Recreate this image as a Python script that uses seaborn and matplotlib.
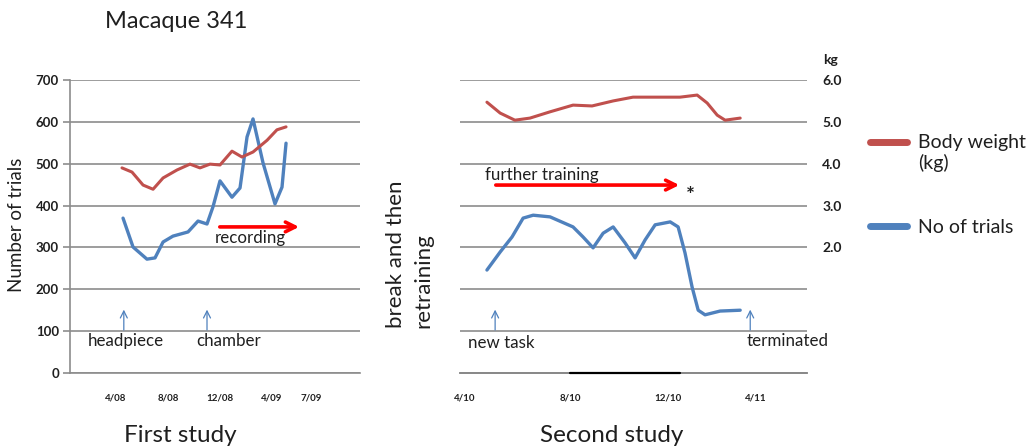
import matplotlib
matplotlib.use("Agg")
import matplotlib.pyplot as plt
from matplotlib.transforms import Affine2D
import seaborn as sns
import pandas as pd

# ---------------- data ----------------
# First study: x = months since 4/08
first_trials_month = [0.54, 1.31, 2.38, 3.0, 3.62, 4.38, 5.54, 6.31, 7.0, 7.46, 8.0,
                      8.92, 9.54, 10.08, 10.54, 11.31, 12.23, 12.77, 13.08]
first_trials = [370, 301, 272, 275, 313, 327, 337, 363, 356, 397, 459,
                420, 442, 564, 607, 502, 404, 444, 549]
first_weight_month = [0.46, 1.23, 2.08, 2.85, 3.62, 4.69, 5.69, 6.46, 7.23, 8.0,
                      8.92, 9.69, 10.54, 11.62, 12.38, 13.08]
first_weight_kg = [3.90, 3.80, 3.49, 3.39, 3.66, 3.85, 3.99, 3.90, 3.99, 3.97,
                   4.30, 4.16, 4.28, 4.56, 4.81, 4.88]

# Second study: x = time index from 4/10
second_trials_month = [0.83, 1.33, 1.78, 2.2, 2.58, 3.22, 4.09, 4.47, 4.85, 5.23, 5.61,
                       6.06, 6.44, 6.82, 7.2, 7.77, 8.07, 8.33, 8.6, 8.83, 9.09, 9.66, 10.42]
second_trials = [246, 289, 325, 370, 377, 373, 349, 325, 299, 334, 349,
                 311, 275, 318, 354, 361, 349, 287, 205, 150, 139, 148, 150]
second_weight_month = [0.83, 1.33, 1.89, 2.46, 3.22, 4.09, 4.81, 5.61, 6.36, 7.27,
                       8.14, 8.79, 9.17, 9.55, 9.85, 10.42]
second_weight_kg = [5.47, 5.21, 5.04, 5.09, 5.24, 5.40, 5.38, 5.50, 5.59, 5.59,
                    5.59, 5.64, 5.45, 5.16, 5.04, 5.09]

first_tick_pos = [0, 4, 8, 12, 15]
first_tick_labels = ["4/08", "8/08", "12/08", "4/09", "7/09"]
second_tick_pos = [0, 4, 7.7, 11]
second_tick_labels = ["4/10", "8/10", "12/10", "4/11"]
trial_ticks = [0, 100, 200, 300, 400, 500, 600, 700]
kg_ticks = [2.0, 3.0, 4.0, 5.0, 6.0]
kg_tick_labels = ["2.0", "3.0", "4.0", "5.0", "6.0"]

RED = "#C0504D"
BLUE = "#4F81BD"
GRID = "#8c8c8c"
INK = "#1f1f1f"

sns.set_style("white")
plt.rcParams["font.family"] = ["Lato", "DejaVu Sans"]

W, H = 1029, 448
fig = plt.figure(figsize=(W / 100, H / 100), dpi=100)

def fx(px):
    return px / W

def fy(py):
    return 1 - py / H

axL = fig.add_axes([fx(70), fy(373), fx(290), 293 / H])
axR = fig.add_axes([fx(460), fy(373), fx(347), 293 / H])

for ax in (axL, axR):
    ax.set_ylim(0, 700)
    ax.set_yticks(trial_ticks)
    ax.grid(axis="y", color=GRID, lw=1.2)
    ax.grid(axis="x", visible=False)
    for s in ("top", "right"):
        ax.spines[s].set_visible(False)
    ax.spines["bottom"].set_color(GRID)
    ax.spines["bottom"].set_linewidth(1.2)
    ax.set_axisbelow(True)

axL.set_xlim(-3.54, 18.77)
axR.set_xlim(-0.19, 12.95)

# left axis styling
axL.spines["left"].set_color(GRID)
axL.spines["left"].set_linewidth(1.2)
axL.tick_params(axis="y", length=5, color=GRID, width=1.2, labelsize=9.5, pad=3,
                labelcolor=INK)
for t in axL.get_yticklabels():
    t.set_fontweight("bold")
axL.set_xticks(first_tick_pos)
axL.set_xticklabels(first_tick_labels, fontsize=7, fontweight="bold", color=INK)
axL.tick_params(axis="x", length=0, pad=15)

axR.spines["left"].set_visible(False)
axR.set_yticklabels([])
axR.tick_params(axis="y", length=0)
axR.set_xticks(second_tick_pos)
axR.set_xticklabels(second_tick_labels, fontsize=7, fontweight="bold", color=INK)
axR.tick_params(axis="x", length=0, pad=15)
axR.axhline(0, color="#7f7f7f", lw=1.4, clip_on=False, zorder=2.5)
axR.axhline(0, xmin=0.317, xmax=0.634, color="black", lw=1.6, clip_on=False, zorder=3)

# twin axes for weight (kg), 6.0 kg aligned with 700 trials
twL = axL.twinx()
twR = axR.twinx()
for tw in (twL, twR):
    tw.set_ylim(-1, 6)
    for s in tw.spines.values():
        s.set_visible(False)
    tw.grid(False)
twL.set_yticks([])
twR.set_yticks(kg_ticks)
twR.set_yticklabels(kg_tick_labels, fontsize=10, fontweight="bold", color=INK)
twR.tick_params(axis="y", length=0, pad=11)

df1t = pd.DataFrame({"month": first_trials_month, "trials": first_trials})
df1w = pd.DataFrame({"month": first_weight_month, "kg": first_weight_kg})
df2t = pd.DataFrame({"month": second_trials_month, "trials": second_trials})
df2w = pd.DataFrame({"month": second_weight_month, "kg": second_weight_kg})

sns.lineplot(data=df1w, x="month", y="kg", ax=twL, color=RED, lw=2.2, sort=False)
sns.lineplot(data=df1t, x="month", y="trials", ax=axL, color=BLUE, lw=2.4, sort=False)
sns.lineplot(data=df2w, x="month", y="kg", ax=twR, color=RED, lw=2.2, sort=False)
sns.lineplot(data=df2t, x="month", y="trials", ax=axR, color=BLUE, lw=2.4, sort=False)

for ax in (axL, axR, twL, twR):
    ax.set_xlabel("")
    ax.set_ylabel("")

# ---------------- annotations ----------------
txt = dict(fontsize=12.2, color=INK)
# recording arrow
axL.annotate("", xy=(14.3, 349), xytext=(7.77, 349),
             arrowprops=dict(arrowstyle="->,head_width=0.35,head_length=0.7", color="red", lw=2.6))
axL.text(7.6, 322, "recording", ha="left", va="center", **txt)
# up arrows
for xm in (0.6, 7.0):
    axL.annotate("", xy=(xm, 158), xytext=(xm, 96),
                 arrowprops=dict(arrowstyle="->,head_width=0.25,head_length=0.5", color=BLUE, lw=0.9))
axL.text(0.75, 76, "headpiece", ha="center", va="center", **txt)
axL.text(8.7, 76, "chamber", ha="center", va="center", **txt)

for xm in (1.14, 10.8):
    axR.annotate("", xy=(xm, 158), xytext=(xm, 96),
                 arrowprops=dict(arrowstyle="->,head_width=0.25,head_length=0.5", color=BLUE, lw=0.9))
axR.text(0.11, 72, "new task", ha="left", va="center", **txt)
axR.text(10.68, 76, "terminated", ha="left", va="center", clip_on=False, **txt)
axR.text(0.76, 473, "further training", ha="left", va="center", **txt)
axR.annotate("", xy=(8.22, 449), xytext=(1.06, 449),
             arrowprops=dict(arrowstyle="->,head_width=0.35,head_length=0.7", color="red", lw=2.6))
axR.text(8.52, 422, "*", ha="center", va="center", fontsize=15, fontweight="bold", color=INK)

# figure texts
fig.text(fx(105), fy(22), "Macaque 341", ha="left", va="center", fontsize=17, color=INK)
fig.text(fx(180), fy(435), "First study", ha="center", va="center", fontsize=17.5, color=INK)
fig.text(fx(612), fy(435), "Second study", ha="center", va="center", fontsize=17.5, color=INK)
fig.text(fx(17), fy(225), "Number of trials", rotation=90, ha="center", va="center",
         fontsize=13.5, color=INK)
fig.text(fx(410), fy(328), "break and then\nretraining", rotation=90, ha="center", va="bottom",
         multialignment="left", linespacing=1.45, fontsize=16, color=INK)
fig.text(fx(823), fy(60), "kg", ha="left", va="center", fontsize=10, fontweight="bold", color=INK)

# legend
h_red = plt.Line2D([], [], color=RED, lw=5)
h_blue = plt.Line2D([], [], color=BLUE, lw=5)
leg = fig.legend([h_red, h_blue], ["Body weight\n(kg)", "No of trials"], loc="upper left",
                 bbox_to_anchor=(fx(870), fy(134)), frameon=False, fontsize=14,
                 handlelength=1.9, handletextpad=0.57, labelspacing=2.4,
                 borderpad=0, borderaxespad=0, labelcolor=INK)
# put the red key next to the first line of its two-line label, as in the original
red_key = leg.legend_handles[0]
red_key.set_transform(red_key.get_transform() + Affine2D().translate(0, 11))

fig.savefig("out.png", dpi=100)
